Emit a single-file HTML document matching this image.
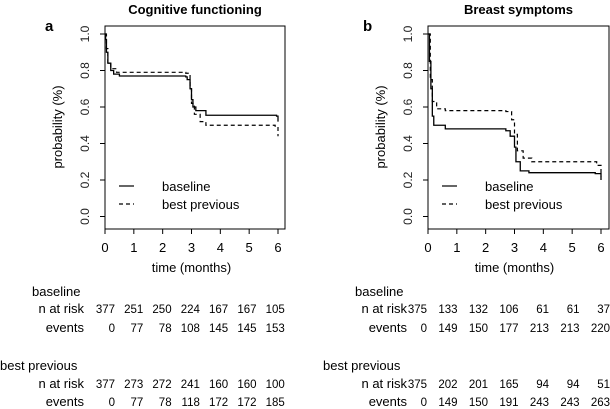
<!DOCTYPE html>
<html><head><meta charset="utf-8"><style>
html,body{margin:0;padding:0;background:#fff}
svg{display:block;font-family:"Liberation Sans",Arial,sans-serif}
</style></head><body>
<svg id="fig" width="610" height="409" viewBox="0 0 610 409" xmlns="http://www.w3.org/2000/svg"></svg>
<script>
// Panel a data
const aBaseT = [0,0.02,0.05,0.1,0.2,0.3,0.5,2.8,2.85,2.95,3.0,3.05,3.15,3.5,5.95,6.0];
const aBaseS = [1,0.97,0.9,0.84,0.8,0.78,0.77,0.765,0.75,0.7,0.64,0.6,0.58,0.555,0.55,0.52];
const aBestT = [0,0.05,0.1,0.2,0.4,2.8,2.95,3.0,3.1,3.3,3.5,5.9,6.0];
const aBestS = [1,0.92,0.84,0.81,0.79,0.785,0.7,0.62,0.56,0.52,0.5,0.495,0.44];
const aRiskBase = ["377","251","250","224","167","167","105"];
const aEvBase = ["0","77","78","108","145","145","153"];
const aRiskBest = ["377","273","272","241","160","160","100"];
const aEvBest = ["0","77","78","118","172","172","185"];
// Panel b data
const bBaseT = [0,0.05,0.1,0.15,0.2,0.6,2.7,2.85,3.0,3.05,3.2,3.5,5.8,6.0];
const bBaseS = [1,0.85,0.7,0.55,0.5,0.48,0.47,0.44,0.38,0.3,0.25,0.24,0.235,0.2];
const bBestT = [0,0.08,0.15,0.3,0.6,2.7,2.9,3.0,3.1,3.3,3.6,5.6,5.85,6.0];
const bBestS = [1,0.75,0.63,0.59,0.58,0.575,0.53,0.45,0.36,0.32,0.3,0.3,0.28,0.22];
const bRiskBase = ["375","133","132","106","61","61","37"];
const bEvBase = ["0","149","150","177","213","213","220"];
const bRiskBest = ["375","202","201","165","94","94","51"];
const bEvBest = ["0","149","150","191","243","243","263"];
const xTicks = [0,1,2,3,4,5,6];
const yTicks = ["0.0","0.2","0.4","0.6","0.8","1.0"];

const NS="http://www.w3.org/2000/svg";
const svg=document.getElementById('fig');
function mk(tag,attrs,parent,text){const e=document.createElementNS(NS,tag);for(const k in attrs)e.setAttribute(k,attrs[k]);if(text!==undefined)e.textContent=text;(parent||svg).appendChild(e);return e;}

function panel(p){
  const g=mk('g',{});
  
  
  const X=t=>p.x0+t*(p.x6-p.x0)/6;
  const Y=v=>216.5-v*182.5;
  const box=mk('rect',{x:p.bx0,y:26,width:p.bx1-p.bx0,height:203,fill:'none',stroke:'#000','stroke-width':1},g);
  
  
  const t=mk('text',{x:(p.bx0+p.bx1)/2,y:14,'text-anchor':'middle','font-weight':'bold','font-size':13},g,p.title);
  
  
  const l=mk('text',{x:p.letterX,y:31,'font-weight':'bold','font-size':15},g,p.id);
  
  
  yTicks.forEach(s=>{const v=parseFloat(s);
    mk('line',{x1:p.bx0-5,x2:p.bx0,y1:Y(v),y2:Y(v),stroke:'#000'},g);
    const tx=mk('text',{x:0,y:0,transform:`translate(${p.bx0-16},${Y(v)}) rotate(-90)`,'text-anchor':'middle','font-size':12,fill:'#222'},g,s);
    
    
  });
  const yl=mk('text',{x:0,y:0,transform:`translate(${p.bx0-43},127) rotate(-90)`,'text-anchor':'middle','font-size':13},g,'probability (%)');
  
  
  xTicks.forEach(v=>{
    mk('line',{x1:X(v),x2:X(v),y1:229,y2:234,stroke:'#000'},g);
    const tx=mk('text',{x:X(v),y:252,'text-anchor':'middle','font-size':13},g,String(v));
    
    
  });
  const xl=mk('text',{x:X(3),y:272,'text-anchor':'middle','font-size':13},g,'time (months)');
  
  
  function step(T,S){let d=`M${X(T[0])},${Y(S[0])}`;for(let i=1;i<T.length;i++){d+=`H${X(T[i])}V${Y(S[i])}`;}return d;}
  const c1=mk('path',{d:step(p.baseT,p.baseS),fill:'none',stroke:'#000','stroke-width':1.3},g);
  
  
  const c2=mk('path',{d:step(p.bestT,p.bestS),fill:'none',stroke:'#000','stroke-width':1.2,'stroke-dasharray':'4,3'},g);
  
  
  const lx=p.bx0+14;
  mk('line',{x1:lx,x2:lx+15,y1:186,y2:186,stroke:'#000','stroke-width':1.2},g);
  const le1=mk('text',{x:lx+43,y:191,'font-size':13},g,'baseline');
  
  
  mk('line',{x1:lx,x2:lx+15,y1:204,y2:204,stroke:'#000','stroke-width':1.2,'stroke-dasharray':'4,3'},g);
  const le2=mk('text',{x:lx+43,y:209,'font-size':13},g,'best previous');
  
  
  const lab=(txt,x,y,anchor,name)=>{const e=mk('text',{x:x,y:y,'font-size':13,'text-anchor':anchor},g,txt);};
  lab('baseline',p.tblStart+32,296,'start','table-group-baseline');
  lab('n at risk',p.labR,313,'end','row-label');
  lab('events',p.labR,332,'end','row-label');
  lab('best previous',p.tblStart,370,'start','table-group-best-previous');
  lab('n at risk',p.labR,388,'end','row-label');
  lab('events',p.labR,406,'end','row-label');
  const rows=[[p.rb,313],[p.eb,332],[p.rp,388],[p.ep,406]];
  rows.forEach(([arr,y])=>arr.forEach((s,i)=>{
    const e=mk('text',{x:p.num0+i*p.numStep,y:y,'font-size':11.5,'text-anchor':'end'},g,s);
    
    
  }));
}
panel({id:'a',title:'Cognitive functioning',x0:105,x6:278,bx0:105,bx1:285,letterX:45,
  baseT:aBaseT,baseS:aBaseS,bestT:aBestT,bestS:aBestS,rb:aRiskBase,eb:aEvBase,rp:aRiskBest,ep:aEvBest,
  tblStart:0,labR:84,num0:115,numStep:28.3});
panel({id:'b',title:'Breast symptoms',x0:428,x6:601,bx0:428,bx1:609,letterX:363,
  baseT:bBaseT,baseS:bBaseS,bestT:bBestT,bestS:bBestS,rb:bRiskBase,eb:bEvBase,rp:bRiskBest,ep:bEvBest,
  tblStart:323,labR:407,num0:427,numStep:30.5});
</script>
</body></html>
